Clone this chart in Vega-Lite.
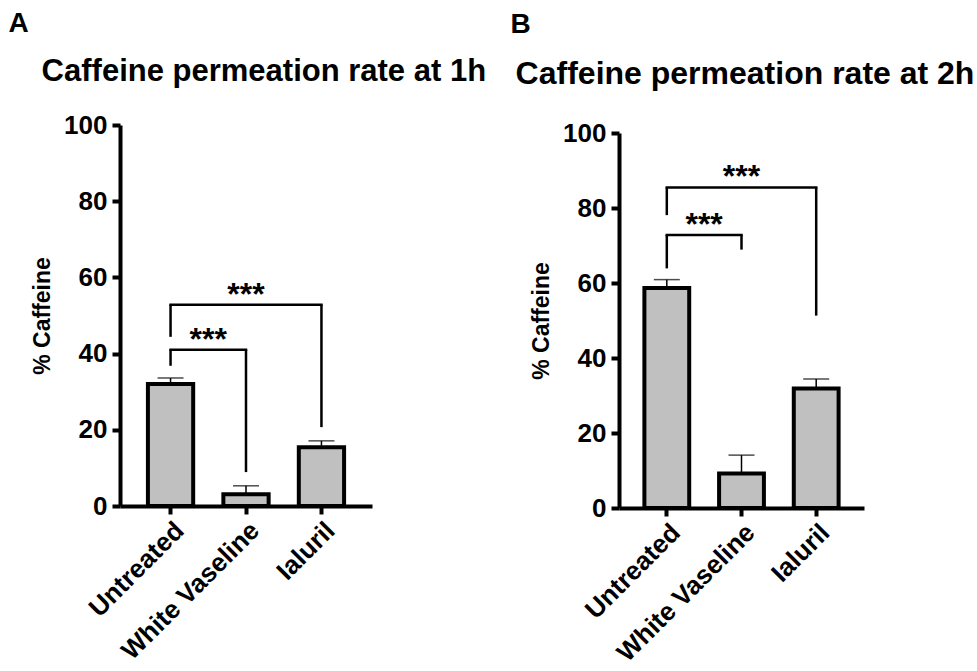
{
  "$schema": "https://vega.github.io/schema/vega-lite/v6.json",
  "padding": {"left": 8, "top": 10, "right": 0, "bottom": 0},
  "background": "white",
  "config": {
    "view": {"stroke": null},
    "font": "Liberation Sans",
    "axis": {
      "domainColor": "black", "domainWidth": 4, "tickColor": "black", "tickWidth": 4, "tickSize": 8,
      "labelColor": "black", "labelFont": "Liberation Sans", "labelFontWeight": "bold", "labelLimit": 400,
      "titleColor": "black", "titleFont": "Liberation Sans", "titleFontWeight": "bold", "grid": false
    },
    "axisX": {"labelAngle": -45, "labelFontSize": 26, "labelPadding": 3, "title": null},
    "axisY": {"labelFontSize": 26, "labelPadding": 5, "titleFontSize": 23, "titlePadding": 9},
    "title": {"color": "black", "font": "Liberation Sans", "fontWeight": "bold", "anchor": "start"}
  },
  "datasets": {
    "barsA": [
      {"group": "Untreated", "value": 32.0, "upper": 33.6},
      {"group": "White Vaseline", "value": 3.1, "upper": 5.3},
      {"group": "Ialuril", "value": 15.4, "upper": 17.1}
    ],
    "legsA": [
      {"group": "Untreated", "from": 36.8, "to": 41.0},
      {"group": "White Vaseline", "from": 8.9, "to": 41.0},
      {"group": "Untreated", "from": 44.4, "to": 52.8},
      {"group": "Ialuril", "from": 20.7, "to": 52.8}
    ],
    "spansA": [
      {"start": "Untreated", "end": "White Vaseline", "y": 41.0, "label": "***", "span": "near"},
      {"start": "Untreated", "end": "Ialuril", "y": 52.8, "label": "***", "span": "far"}
    ],
    "barsB": [
      {"group": "Untreated", "value": 58.7, "upper": 60.9},
      {"group": "White Vaseline", "value": 9.2, "upper": 14.1},
      {"group": "Ialuril", "value": 31.9, "upper": 34.4}
    ],
    "legsB": [
      {"group": "Untreated", "from": 63.9, "to": 72.8},
      {"group": "White Vaseline", "from": 68.9, "to": 72.8},
      {"group": "Untreated", "from": 78.1, "to": 85.5},
      {"group": "Ialuril", "from": 51.3, "to": 85.5}
    ],
    "spansB": [
      {"start": "Untreated", "end": "White Vaseline", "y": 72.8, "label": "***", "span": "near"},
      {"start": "Untreated", "end": "Ialuril", "y": 85.5, "label": "***", "span": "far"}
    ]
  },
  "spacing": 23,
  "hconcat": [
    {
      "title": {"text": "A", "fontSize": 28, "dx": -23, "offset": 18},
      "hconcat": [
        {
          "width": 252, "height": 381,
          "title": {"text": "Caffeine permeation rate at 1h", "fontSize": 31, "offset": 24, "dx": 10},
          "encoding": {
            "x": {"field": "group", "type": "nominal", "sort": ["Untreated", "White Vaseline", "Ialuril"],
                  "scale": {"domain": ["Untreated", "White Vaseline", "Ialuril"], "paddingInner": 0.4, "paddingOuter": 0.37}},
            "y": {"type": "quantitative", "scale": {"domain": [0, 100]}, "axis": {"title": "% Caffeine", "values": [0, 20, 40, 60, 80, 100]}}
          },
          "layer": [
            {"data": {"name": "barsA"}, "mark": {"type": "rule", "color": "black", "strokeWidth": 1.5},
             "encoding": {"y": {"field": "value", "type": "quantitative"}, "y2": {"field": "upper"}}},
            {"data": {"name": "barsA"}, "mark": {"type": "tick", "color": "black", "thickness": 1.5, "size": 26},
             "encoding": {"y": {"field": "upper", "type": "quantitative"}}},
            {"data": {"name": "barsA"}, "mark": {"type": "bar", "fill": "#c0c0c0", "stroke": "black", "strokeWidth": 4},
             "encoding": {"y": {"field": "value", "type": "quantitative"}}},
            {"data": {"name": "legsA"}, "mark": {"type": "rule", "color": "black", "strokeWidth": 2.5},
             "encoding": {"y": {"field": "from", "type": "quantitative"}, "y2": {"field": "to"}}},
            {"data": {"name": "spansA"}, "mark": {"type": "rule", "color": "black", "strokeWidth": 2.5, "strokeCap": "square"},
             "encoding": {"x": {"field": "start", "type": "nominal"}, "x2": {"field": "end"}, "y": {"field": "y", "type": "quantitative"}}},
            {"data": {"name": "spansA"}, "transform": [{"filter": "datum.span == 'near'"}],
             "mark": {"type": "text", "fontSize": 32, "fontWeight": "bold", "color": "black", "baseline": "alphabetic"},
             "encoding": {"x": {"field": "start", "type": "nominal", "bandPosition": 1.333}, "y": {"field": "y", "type": "quantitative"}, "text": {"field": "label"}}},
            {"data": {"name": "spansA"}, "transform": [{"filter": "datum.span == 'far'"}],
             "mark": {"type": "text", "fontSize": 32, "fontWeight": "bold", "color": "black", "baseline": "alphabetic"},
             "encoding": {"x": {"field": "start", "type": "nominal", "bandPosition": 2.167}, "y": {"field": "y", "type": "quantitative"}, "text": {"field": "label"}}}
          ]
        }
      ]
    },
    {
      "title": {"text": "B", "fontSize": 28, "dx": -5, "offset": 19},
      "hconcat": [
        {
          "width": 245, "height": 383,
          "title": {"text": "Caffeine permeation rate at 2h", "fontSize": 32, "offset": 29, "dx": -15},
          "encoding": {
            "x": {"field": "group", "type": "nominal", "sort": ["Untreated", "White Vaseline", "Ialuril"],
                  "scale": {"domain": ["Untreated", "White Vaseline", "Ialuril"], "paddingInner": 0.4, "paddingOuter": 0.34}},
            "y": {"type": "quantitative", "scale": {"domain": [0, 100], "range": [383, 8]}, "axis": {"title": "% Caffeine", "values": [0, 20, 40, 60, 80, 100]}}
          },
          "layer": [
            {"data": {"name": "barsB"}, "mark": {"type": "rule", "color": "black", "strokeWidth": 1.5},
             "encoding": {"y": {"field": "value", "type": "quantitative"}, "y2": {"field": "upper"}}},
            {"data": {"name": "barsB"}, "mark": {"type": "tick", "color": "black", "thickness": 1.5, "size": 26},
             "encoding": {"y": {"field": "upper", "type": "quantitative"}}},
            {"data": {"name": "barsB"}, "mark": {"type": "bar", "fill": "#c0c0c0", "stroke": "black", "strokeWidth": 4},
             "encoding": {"y": {"field": "value", "type": "quantitative"}}},
            {"data": {"name": "legsB"}, "mark": {"type": "rule", "color": "black", "strokeWidth": 2.5},
             "encoding": {"y": {"field": "from", "type": "quantitative"}, "y2": {"field": "to"}}},
            {"data": {"name": "spansB"}, "mark": {"type": "rule", "color": "black", "strokeWidth": 2.5, "strokeCap": "square"},
             "encoding": {"x": {"field": "start", "type": "nominal"}, "x2": {"field": "end"}, "y": {"field": "y", "type": "quantitative"}}},
            {"data": {"name": "spansB"}, "transform": [{"filter": "datum.span == 'near'"}],
             "mark": {"type": "text", "fontSize": 32, "fontWeight": "bold", "color": "black", "baseline": "alphabetic"},
             "encoding": {"x": {"field": "start", "type": "nominal", "bandPosition": 1.333}, "y": {"field": "y", "type": "quantitative"}, "text": {"field": "label"}}},
            {"data": {"name": "spansB"}, "transform": [{"filter": "datum.span == 'far'"}],
             "mark": {"type": "text", "fontSize": 32, "fontWeight": "bold", "color": "black", "baseline": "alphabetic"},
             "encoding": {"x": {"field": "start", "type": "nominal", "bandPosition": 2.167}, "y": {"field": "y", "type": "quantitative"}, "text": {"field": "label"}}}
          ]
        }
      ]
    }
  ]
}
